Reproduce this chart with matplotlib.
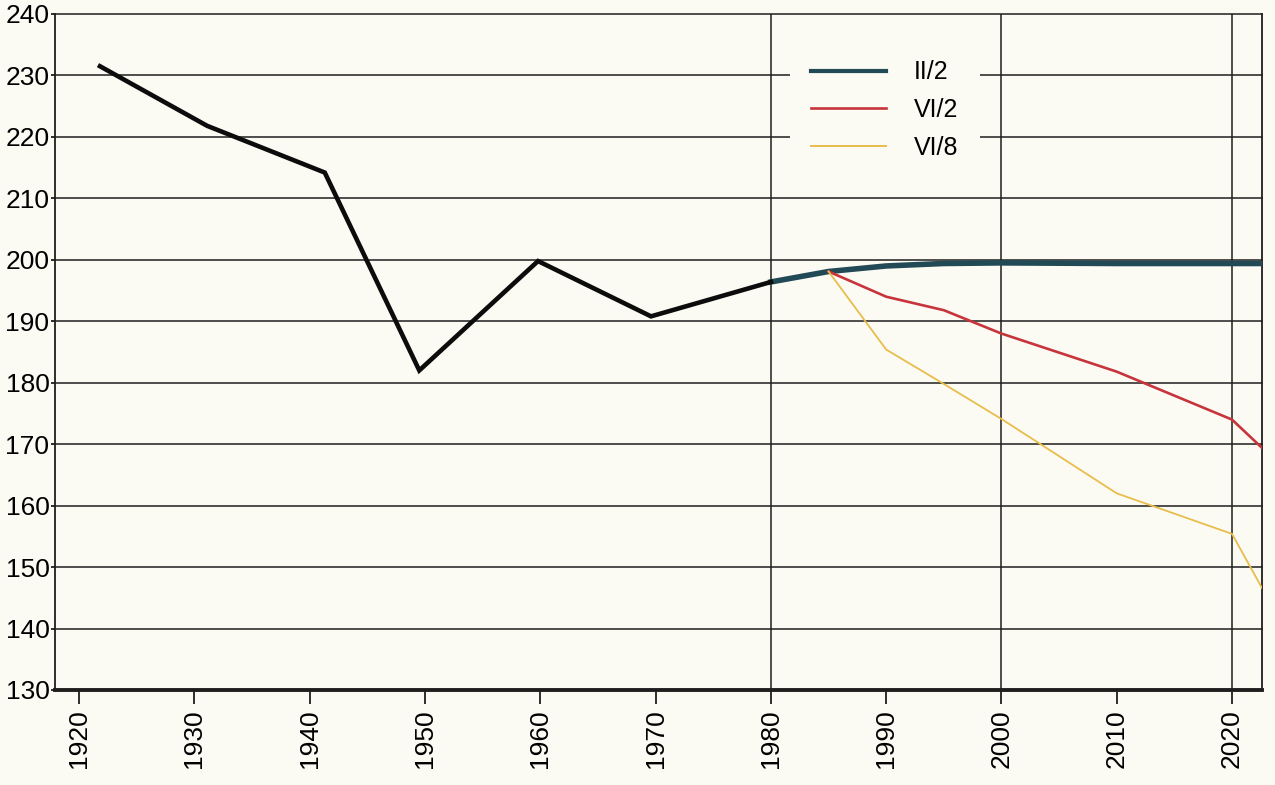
import matplotlib
matplotlib.use("Agg")
import matplotlib.pyplot as plt
from matplotlib.lines import Line2D

# ---- data ----
hist_years = [1921.8, 1931.1, 1941.3, 1949.5, 1959.8, 1969.6, 1980]
hist_vals = [231.5, 221.8, 214.2, 182.0, 199.8, 190.8, 196.4]

ii2_years = [1980, 1985, 1990, 1995, 2000, 2010, 2020, 2022.6]
ii2_vals = [196.4, 198.1, 199.0, 199.4, 199.5, 199.4, 199.4, 199.4]

vi2_years = [1985, 1990, 1995, 2000, 2010, 2020, 2022.6]
vi2_vals = [198.1, 194.0, 191.8, 188.0, 181.8, 174.0, 169.4]

vi8_years = [1985, 1990, 1995, 2000, 2010, 2020, 2022.6]
vi8_vals = [198.1, 185.4, 179.8, 174.1, 162.0, 155.4, 146.6]

x_ticks = [1920, 1930, 1940, 1950, 1960, 1970, 1980, 1990, 2000, 2010, 2020]
y_ticks = [130, 140, 150, 160, 170, 180, 190, 200, 210, 220, 230, 240]
v_grid_years = [1980, 2000, 2020]
legend_labels = ["II/2", "VI/2", "VI/8"]

# ---- styling ----
BG = "#fbfbf3"
GRID = "#1e1e1e"
C_HIST = "#0c0c0c"
C_II2 = "#214a56"
C_VI2 = "#c7343c"
C_VI8 = "#e9bd4c"

plt.rcParams["font.family"] = ["Liberation Sans", "DejaVu Sans"]

fig = plt.figure(figsize=(12.75, 7.85), dpi=100, facecolor=BG)
ax = fig.add_axes([55 / 1275, 1 - 690 / 785, (1262 - 55) / 1275, (690 - 14) / 785])
ax.set_facecolor(BG)

ax.set_xlim(1917.9, 2022.6)
ax.set_ylim(130, 240)

# grid
for yv in y_ticks[1:]:
    ax.axhline(yv, color=GRID, lw=1.1, zorder=1, clip_on=False)
for xv in v_grid_years:
    ax.axvline(xv, color=GRID, lw=1.1, zorder=1)

# lines
ax.plot(hist_years, hist_vals, color=C_HIST, lw=3.3, solid_joinstyle="miter", zorder=4)
ax.plot(ii2_years, ii2_vals, color=C_II2, lw=4.0, zorder=3)
ax.plot(vi2_years, vi2_vals, color=C_VI2, lw=1.9, zorder=3)
ax.plot(vi8_years, vi8_vals, color=C_VI8, lw=1.3, zorder=3)

# spines
ax.spines["top"].set_visible(False)
ax.spines["left"].set_linewidth(1.3)
ax.spines["right"].set_linewidth(1.3)
ax.spines["bottom"].set_linewidth(2.8)
for s in ax.spines.values():
    s.set_color(GRID)

ax.set_xticks(x_ticks)
ax.set_xticklabels([str(v) for v in x_ticks], rotation=90, fontsize=19)
ax.set_yticks(y_ticks)
ax.set_yticklabels([str(v) for v in y_ticks], fontsize=19)
ax.tick_params(axis="x", length=10, width=1.3, color=GRID, pad=4)
ax.tick_params(axis="y", length=3, width=1.3, color=GRID, pad=1)

# legend
handles = [
    Line2D([], [], color=C_II2, lw=3.0),
    Line2D([], [], color=C_VI2, lw=1.9),
    Line2D([], [], color=C_VI8, lw=1.4),
]
leg = ax.legend(handles, legend_labels, loc="upper left",
                bbox_to_anchor=((790 - 55) / 1207, (690 - 39) / 676),
                borderaxespad=0, borderpad=0.85, fontsize=18,
                handlelength=3.0, handletextpad=1.1, labelspacing=0.55,
                frameon=True, fancybox=False)
leg.get_frame().set_facecolor(BG)
leg.get_frame().set_edgecolor("none")
leg.get_frame().set_alpha(1)
leg.set_zorder(5)

fig.savefig("out.png", dpi=100, facecolor=BG)
